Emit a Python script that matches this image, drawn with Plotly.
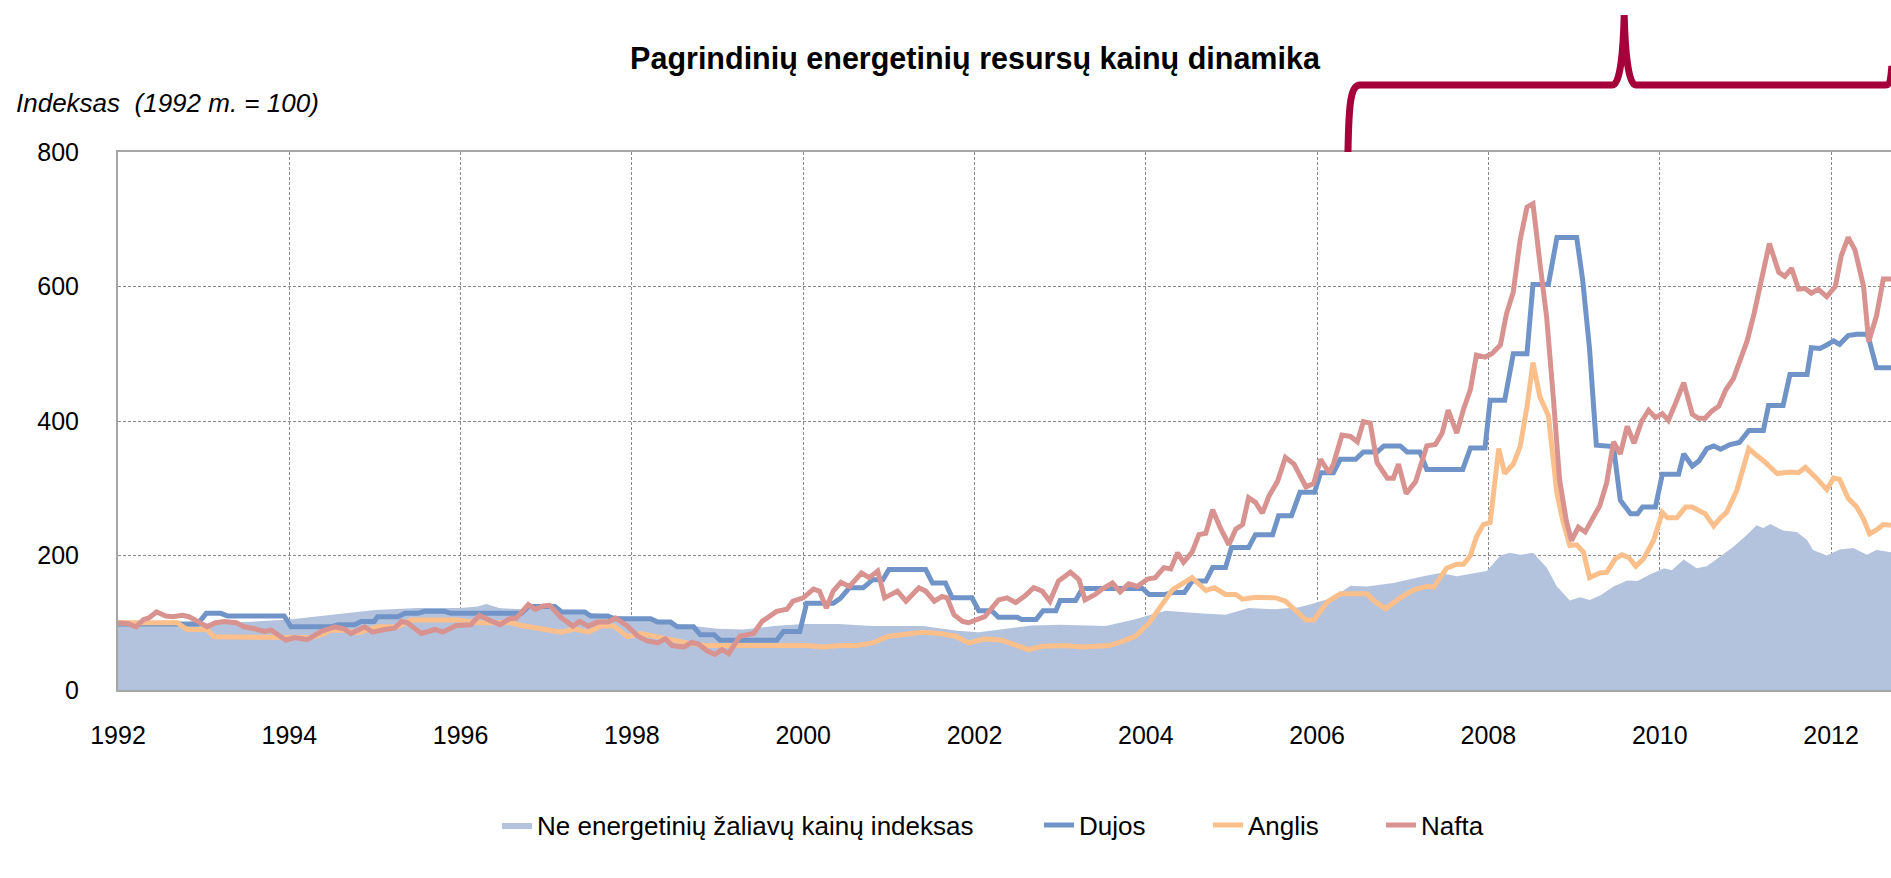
import plotly.graph_objects as go

# ---------------- data (decimal years, index 1992 = 100) ----------------
area_x = [1992.00, 1992.50, 1993.00, 1993.50, 1994.00, 1994.50, 1995.00, 1995.50, 1996.00, 1996.20,
          1996.30, 1996.45, 1996.70, 1997.00, 1997.33, 1997.72, 1998.00, 1998.50, 1999.00, 1999.30,
          1999.66, 2000.00, 2000.42, 2000.80, 2001.40, 2001.80, 2002.05, 2002.28, 2002.67, 2003.00,
          2003.53, 2003.84, 2004.08, 2004.23, 2004.62, 2004.93, 2005.20, 2005.50, 2005.79, 2006.00,
          2006.19, 2006.39, 2006.58, 2006.89, 2007.24, 2007.44, 2007.63, 2007.83, 2007.98, 2008.14,
          2008.25, 2008.37, 2008.52, 2008.68, 2008.80, 2008.95, 2009.07, 2009.18, 2009.31, 2009.46,
          2009.62, 2009.74, 2009.89, 2010.05, 2010.14, 2010.28, 2010.43, 2010.55, 2010.67, 2010.86,
          2011.02, 2011.13, 2011.21, 2011.29, 2011.44, 2011.60, 2011.72, 2011.79, 2011.95, 2012.10,
          2012.26, 2012.42, 2012.53, 2012.70]
area_y = [100, 100, 99, 101, 105, 112, 119, 122, 122, 124,
          128, 122, 120, 121, 117, 112, 107, 98, 91, 90,
          95, 98, 98, 95, 95, 88, 86, 90, 96, 97,
          95, 104, 112, 118, 114, 112, 122, 120, 123, 130,
          138, 155, 154, 159, 169, 174, 169, 174, 177, 200,
          204, 201, 204, 182, 154, 133, 138, 134, 141, 154,
          163, 162, 172, 181, 178, 194, 181, 184, 195, 213,
          231, 245, 241, 247, 237, 235, 223, 208, 200, 209,
          211, 201, 208, 205]

dujos_x = [1992.00, 1992.93, 1993.03, 1993.20, 1993.28, 1993.94, 1994.02, 1994.49, 1994.57, 1994.76,
           1994.84, 1994.99, 1995.03, 1995.27, 1995.35, 1995.50, 1995.58, 1995.81, 1995.89, 1996.71,
           1996.79, 1997.10, 1997.18, 1997.45, 1997.52, 1997.72, 1997.79, 1998.22, 1998.30, 1998.45,
           1998.53, 1998.72, 1998.80, 1998.96, 1999.03, 1999.69, 1999.77, 1999.96, 2000.04, 2000.35,
           2000.43, 2000.54, 2000.70, 2000.81, 2000.93, 2001.00, 2001.43, 2001.51, 2001.66, 2001.74,
           2001.97, 2002.05, 2002.20, 2002.28, 2002.50, 2002.55, 2002.72, 2002.80, 2002.95, 2003.00,
           2003.18, 2003.26, 2003.96, 2004.04, 2004.23, 2004.31, 2004.45, 2004.54, 2004.70, 2004.78,
           2004.93, 2005.00, 2005.20, 2005.28, 2005.48, 2005.55, 2005.70, 2005.80, 2005.97, 2006.04,
           2006.19, 2006.27, 2006.45, 2006.54, 2006.70, 2006.78, 2006.97, 2007.05, 2007.20, 2007.28,
           2007.70, 2007.79, 2007.96, 2008.02, 2008.19, 2008.29, 2008.45, 2008.52, 2008.70, 2008.80,
           2009.03, 2009.10, 2009.18, 2009.26, 2009.46, 2009.54, 2009.66, 2009.74, 2009.80, 2009.95,
           2010.03, 2010.22, 2010.28, 2010.38, 2010.46, 2010.55, 2010.63, 2010.71, 2010.82, 2010.93,
           2011.04, 2011.21, 2011.27, 2011.44, 2011.52, 2011.72, 2011.77, 2011.87, 2011.95, 2012.03,
           2012.10, 2012.20, 2012.30, 2012.42, 2012.45, 2012.53, 2012.70]
dujos_y = [98, 98, 114, 114, 110, 110, 94, 94, 97, 97,
           102, 102, 109, 109, 114, 114, 117, 117, 114, 114,
           124, 124, 116, 116, 110, 110, 106, 106, 101, 101,
           94, 94, 82, 82, 74, 74, 87, 87, 129, 129,
           136, 152, 152, 164, 164, 179, 179, 159, 159, 137,
           137, 118, 118, 108, 108, 105, 105, 118, 118, 133,
           133, 151, 151, 142, 142, 145, 145, 162, 162, 182,
           182, 212, 212, 231, 231, 259, 259, 294, 294, 323,
           323, 343, 343, 354, 354, 363, 363, 354, 354, 328,
           328, 360, 360, 431, 431, 500, 500, 603, 603, 673,
           673, 610, 508, 364, 362, 282, 262, 262, 272, 272,
           321, 321, 351, 333, 341, 359, 363, 358, 365, 368,
           386, 386, 423, 423, 469, 469, 509, 508, 513, 519,
           514, 527, 529, 529, 518, 479, 479]

anglis_x = [1992.00, 1992.69, 1992.81, 1993.04, 1993.12, 1993.94, 1994.25, 1994.37, 1994.49, 1994.64,
            1994.80, 1995.03, 1995.27, 1995.42, 1995.97, 1996.20, 1996.59, 1996.71, 1996.94, 1997.18,
            1997.33, 1997.49, 1997.64, 1997.79, 1997.95, 1998.10, 1998.30, 1998.49, 1998.68, 1998.88,
            2000.04, 2000.23, 2000.43, 2000.62, 2000.81, 2001.00, 2001.20, 2001.39, 2001.59, 2001.78,
            2001.93, 2002.05, 2002.12, 2002.32, 2002.48, 2002.63, 2002.79, 2003.06, 2003.26, 2003.45,
            2003.57, 2003.72, 2003.88, 2004.04, 2004.15, 2004.31, 2004.54, 2004.70, 2004.80, 2004.93,
            2005.05, 2005.13, 2005.28, 2005.52, 2005.63, 2005.79, 2005.87, 2005.96, 2006.12, 2006.27,
            2006.58, 2006.66, 2006.80, 2006.97, 2007.13, 2007.28, 2007.36, 2007.51, 2007.63, 2007.71,
            2007.79, 2007.86, 2007.94, 2008.02, 2008.12, 2008.19, 2008.29, 2008.37, 2008.45, 2008.52,
            2008.60, 2008.70, 2008.80, 2008.87, 2008.95, 2009.03, 2009.11, 2009.18, 2009.30, 2009.38,
            2009.48, 2009.56, 2009.64, 2009.72, 2009.81, 2009.93, 2010.03, 2010.09, 2010.20, 2010.30,
            2010.38, 2010.53, 2010.63, 2010.71, 2010.78, 2010.90, 2011.04, 2011.13, 2011.21, 2011.37,
            2011.52, 2011.62, 2011.70, 2011.83, 2011.95, 2012.03, 2012.10, 2012.20, 2012.30, 2012.38,
            2012.45, 2012.53, 2012.61, 2012.70]
anglis_y = [100, 100, 90, 90, 79, 79, 78, 82, 89, 89,
            85, 94, 94, 104, 104, 100, 100, 96, 91, 86,
            91, 86, 95, 95, 79, 84, 79, 74, 69, 66,
            66, 64, 66, 66, 70, 80, 84, 86, 84, 80,
            70, 74, 76, 74, 67, 60, 65, 66, 64, 65,
            66, 72, 80, 100, 119, 149, 167, 148, 152, 142,
            142, 135, 138, 137, 132, 114, 104, 104, 131, 143,
            143, 133, 121, 137, 149, 154, 153, 181, 187, 187,
            200, 228, 246, 249, 359, 322, 336, 362, 421, 487,
            436, 408, 292, 251, 215, 216, 205, 167, 174, 175,
            195, 201, 197, 184, 195, 223, 264, 256, 256, 272,
            272, 262, 244, 256, 264, 297, 359, 349, 341, 322,
            324, 323, 331, 315, 298, 315, 313, 285, 272, 254,
            232, 238, 246, 245]

nafta_x = [1992.00, 1992.11, 1992.21, 1992.30, 1992.36, 1992.45, 1992.56, 1992.64, 1992.75, 1992.83,
           1992.93, 1993.04, 1993.14, 1993.24, 1993.38, 1993.47, 1993.59, 1993.71, 1993.79, 1993.86,
           1993.96, 1994.06, 1994.21, 1994.37, 1994.53, 1994.64, 1994.72, 1994.88, 1994.97, 1995.11,
           1995.23, 1995.31, 1995.38, 1995.54, 1995.70, 1995.79, 1995.95, 1996.12, 1996.22, 1996.32,
           1996.46, 1996.57, 1996.65, 1996.79, 1996.87, 1996.96, 1997.04, 1997.18, 1997.31, 1997.39,
           1997.49, 1997.60, 1997.72, 1997.81, 1997.95, 1998.07, 1998.18, 1998.30, 1998.39, 1998.47,
           1998.61, 1998.70, 1998.78, 1998.88, 1998.97, 1999.05, 1999.13, 1999.26, 1999.42, 1999.52,
           1999.69, 1999.81, 1999.88, 2000.00, 2000.12, 2000.19, 2000.27, 2000.35, 2000.44, 2000.54,
           2000.68, 2000.77, 2000.87, 2000.95, 2001.04, 2001.10, 2001.20, 2001.35, 2001.43, 2001.53,
           2001.62, 2001.68, 2001.76, 2001.86, 2001.93, 2002.01, 2002.12, 2002.28, 2002.38, 2002.48,
           2002.59, 2002.69, 2002.79, 2002.88, 2002.98, 2003.12, 2003.22, 2003.29, 2003.41, 2003.49,
           2003.61, 2003.70, 2003.80, 2003.90, 2004.02, 2004.11, 2004.21, 2004.29, 2004.37, 2004.44,
           2004.54, 2004.62, 2004.70, 2004.78, 2004.87, 2004.97, 2005.05, 2005.13, 2005.20, 2005.28,
           2005.36, 2005.44, 2005.54, 2005.63, 2005.73, 2005.87, 2005.96, 2006.04, 2006.14, 2006.19,
           2006.29, 2006.39, 2006.47, 2006.54, 2006.62, 2006.70, 2006.82, 2006.89, 2006.95, 2007.04,
           2007.15, 2007.28, 2007.38, 2007.46, 2007.53, 2007.63, 2007.71, 2007.79, 2007.86, 2007.96,
           2008.04, 2008.14, 2008.21, 2008.29, 2008.37, 2008.45, 2008.52, 2008.60, 2008.68, 2008.76,
           2008.83, 2008.91, 2008.97, 2009.05, 2009.13, 2009.22, 2009.30, 2009.38, 2009.46, 2009.54,
           2009.62, 2009.70, 2009.79, 2009.87, 2009.95, 2010.03, 2010.10, 2010.18, 2010.28, 2010.38,
           2010.45, 2010.53, 2010.61, 2010.69, 2010.77, 2010.86, 2010.94, 2011.02, 2011.10, 2011.19,
           2011.28, 2011.39, 2011.46, 2011.54, 2011.62, 2011.70, 2011.77, 2011.85, 2011.95, 2012.05,
           2012.12, 2012.20, 2012.28, 2012.38, 2012.44, 2012.53, 2012.61, 2012.70]
nafta_y = [100, 99, 94, 105, 107, 116, 110, 109, 111, 109,
           102, 94, 100, 102, 100, 94, 91, 87, 89, 82,
           74, 78, 75, 87, 94, 91, 84, 94, 86, 90,
           92, 102, 100, 84, 90, 86, 96, 97, 111, 105,
           97, 106, 107, 127, 120, 125, 126, 107, 95, 102,
           95, 101, 101, 107, 95, 80, 73, 70, 76, 66,
           64, 71, 68, 58, 53, 60, 54, 80, 84, 102,
           117, 120, 132, 137, 150, 147, 122, 147, 160, 154,
           174, 167, 177, 137, 142, 147, 132, 152, 147, 132,
           139, 137, 112, 102, 100, 103, 109, 134, 137, 130,
           140, 152, 147, 132, 162, 175, 164, 134, 142, 150,
           159, 146, 158, 154, 165, 167, 182, 180, 204, 190,
           205, 231, 233, 268, 241, 216, 239, 246, 286, 279,
           263, 289, 311, 346, 336, 302, 307, 343, 323, 336,
           379, 377, 369, 399, 397, 338, 315, 315, 336, 292,
           310, 363, 365, 382, 416, 382, 418, 447, 498, 495,
           500, 513, 559, 592, 669, 718, 723, 636, 554, 431,
           313, 251, 222, 242, 235, 256, 274, 308, 369, 351,
           392, 367, 400, 416, 405, 411, 401, 425, 457, 410,
           404, 404, 415, 422, 446, 463, 492, 519, 559, 608,
           664, 621, 615, 627, 596, 597, 590, 596, 585, 600,
           646, 673, 654, 600, 518, 556, 611, 611]

series_names = ["Ne energetinių žaliavų kainų indeksas", "Dujos", "Anglis", "Nafta"]
year_ticks = list(range(1992, 2013, 2))
value_ticks = [0, 200, 400, 600, 800]

# ---------------- style ----------------
FONT = "Liberation Sans, Arial, sans-serif"
C_AREA = "#B4C3DD"
C_DUJOS = "#7094C8"
C_ANGLIS = "#FBBF8C"
C_NAFTA = "#D8928F"
C_BRACE = "#A5003A"
W = 1891
H = 878
L = 118

fig = go.Figure()
fig.add_trace(go.Scatter(x=area_x, y=area_y, name=series_names[0], mode="lines",
                         line=dict(width=0, color=C_AREA), fill="tozeroy", fillcolor=C_AREA,
                         legendwidth=497, hoverinfo="skip"))
fig.add_trace(go.Scatter(x=dujos_x, y=dujos_y, name=series_names[1], mode="lines",
                         line=dict(width=5, color=C_DUJOS), legendwidth=124))
fig.add_trace(go.Scatter(x=anglis_x, y=anglis_y, name=series_names[2], mode="lines",
                         line=dict(width=5, color=C_ANGLIS), legendwidth=128))
fig.add_trace(go.Scatter(x=nafta_x, y=nafta_y, name=series_names[3], mode="lines",
                         line=dict(width=5, color=C_NAFTA)))

# curly brace above the plot (2006.4 - end)
brace = ("M 2006.36,1.0 C 2006.37,1.09 2006.39,1.1245 2006.50,1.1245 "
         "L 2009.45,1.1245 C 2009.54,1.1245 2009.575,1.19 2009.585,1.2546 "
         "C 2009.595,1.19 2009.63,1.1245 2009.72,1.1245 "
         "L 2012.64,1.1245 C 2012.69,1.1245 2012.70,1.14 2012.71,1.16")

fig.update_layout(
    width=W, height=H,
    margin=dict(l=L, r=0, t=152, b=188, pad=0),
    paper_bgcolor="white", plot_bgcolor="white",
    font=dict(family=FONT, size=26, color="black"),
    title=dict(text="<b>Pagrindinių energetinių resursų kainų dinamika</b>",
               xref="container", yref="container", x=975 / W, y=1 - 58 / H,
               xanchor="center", yanchor="middle",
               font=dict(family=FONT, size=30.5, color="black")),
    showlegend=True,
    legend=dict(orientation="h", xref="container", yref="container",
                x=497 / W, y=1 - 825 / H, xanchor="left", yanchor="middle",
                font=dict(family=FONT, size=26, color="black"),
                bgcolor="rgba(0,0,0,0)", itemwidth=30, traceorder="normal"),
    xaxis=dict(range=[1992, 2012.7], tickmode="array", tickvals=year_ticks,
               ticktext=[str(t) for t in year_ticks], showgrid=True,
               gridcolor="#8a8a8a", gridwidth=1, griddash="3px,2px",
               showline=True, linecolor="#a6a6a6", linewidth=2, mirror=True,
               ticks="", zeroline=False, ticklabelstandoff=22,
               tickfont=dict(family=FONT, size=25, color="black")),
    yaxis=dict(range=[0, 800], tickmode="array", tickvals=value_ticks,
               showgrid=True, gridcolor="#8a8a8a", gridwidth=1, griddash="3px,2px",
               showline=True, linecolor="#a6a6a6", linewidth=2, mirror=False,
               ticks="", zeroline=False, ticklabelstandoff=32,
               tickfont=dict(family=FONT, size=25, color="black")),
    annotations=[dict(text="<i>Indeksas  (1992 m. = 100)</i>", xref="paper", yref="paper",
                      x=(14 - L) / (W - L), y=1 + (152 - 103) / 538,
                      xanchor="left", yanchor="middle", showarrow=False,
                      font=dict(family=FONT, size=26, color="black"))],
    shapes=[dict(type="path", path=brace, xref="x", yref="paper",
                 line=dict(color=C_BRACE, width=7), layer="above")],
)

fig.write_html("out.html", config={"displayModeBar": False},
               post_script="document.body.style.margin='0px';document.body.style.overflow='hidden';")
